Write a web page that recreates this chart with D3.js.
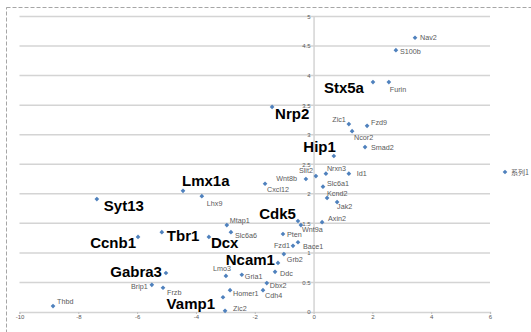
<!DOCTYPE html>
<html><head><meta charset="utf-8">
<script src="https://cdn.jsdelivr.net/npm/d3@7"></script>
<style>html,body{margin:0;padding:0;background:#fff;}svg{display:block;}</style>
</head><body>
<svg id="c" width="531" height="332"></svg>
<script>
const genes = ["Nav2","S100b","Stx5a","Furin","Nrp2","Zic1","Fzd9","Ncor2","Smad2","Hip1","Slit2","Nrxn3","Id1","Wnt8b","Cxcl12","Slc6a1","Kcnd2","Jak2","Lmx1a","Lhx9","Syt13","Mtap1","Slc6a6","Dcx","Tbr1","Ccnb1","Cdk5","Wnt9a","Axin2","Pten","Fzd1","Bace1","Grb2","Ncam1","Ddc","Gria1","Lmo3","Dbx2","Cdh4","Homer1","Vamp1","Zic2","Gabra3","Brip1","Frzb","Thbd"];
const xValues = [3.45,2.80,2.02,2.56,-1.41,1.20,1.82,1.31,1.75,0.69,0.08,0.42,1.20,-0.26,-1.65,0.32,0.46,0.80,-4.44,-3.80,-7.37,-2.95,-2.81,-3.56,-5.16,-5.97,-0.53,-0.43,0.29,-1.04,-0.70,-0.53,-1.01,-1.21,-1.31,-2.44,-2.98,-1.59,-1.72,-2.84,-3.08,-3.01,-5.02,-5.50,-5.12,-8.86];
const yValues = [4.64,4.43,3.89,3.89,3.47,3.18,3.15,3.06,2.79,2.64,2.30,2.34,2.34,2.25,2.17,2.12,1.93,1.86,2.05,1.96,1.91,1.47,1.35,1.27,1.35,1.27,1.54,1.47,1.52,1.32,1.12,1.18,0.98,0.83,0.68,0.63,0.61,0.49,0.37,0.37,0.25,0.02,0.66,0.46,0.41,0.10];
const highlighted = ["Stx5a","Nrp2","Hip1","Lmx1a","Syt13","Cdk5","Tbr1","Dcx","Ccnb1","Ncam1","Gabra3","Vamp1"];
const xTicks = [-10,-8,-6,-4,-2,0,2,4,6];
const yTicks = [0,0.5,1,1.5,2,2.5,3,3.5,4,4.5,5];
const seriesName = "系列1";

// label layout (pixel offsets from the marker, anchor)
const labelLayout = {
 Nav2:[5,0,"start"],S100b:[4,1,"start"],Stx5a:[-9,5,"end"],Furin:[1,7,"start"],Nrp2:[3,7,"start"],
 Zic1:[-3,-5,"end"],Fzd9:[4,-3,"start"],Ncor2:[2,6,"start"],Smad2:[6,0,"start"],Hip1:[2,-9,"end"],
 Slit2:[-3,-6,"end"],Nrxn3:[1,-5,"start"],Id1:[8,0,"start"],Wnt8b:[-9,-1,"end"],Cxcl12:[2,6,"start"],
 Slc6a1:[4,-3,"start"],Kcnd2:[0,-4,"start"],Jak2:[0,4,"start"],Lmx1a:[-1,-10,"start"],Lhx9:[5,7,"start"],
 Syt13:[7,6,"start"],Mtap1:[3,-5,"start"],Slc6a6:[4,3,"start"],Dcx:[2,6,"start"],Tbr1:[5,3,"start"],
 Ccnb1:[-2,6,"end"],Cdk5:[-2,-7,"end"],Wnt9a:[1,4,"start"],Axin2:[6,-4,"start"],Pten:[4,1,"start"],
 Fzd1:[-3,0,"end"],Bace1:[5,4,"start"],Grb2:[3,5,"start"],Ncam1:[-3,-3,"end"],Ddc:[5,2,"start"],
 Gria1:[3,2,"start"],Lmo3:[-4,-7,"middle"],Dbx2:[3,2,"start"],Cdh4:[2,5,"start"],Homer1:[3,3,"start"],
 Vamp1:[-8,6,"end"],Zic2:[8,-2,"start"],Gabra3:[-4,-1,"end"],Brip1:[-4,2,"end"],Frzb:[4,5,"start"],
 Thbd:[4,-5,"start"]
};

const svg = d3.select("#c");
const x = d3.scaleLinear().domain([-10,6]).range([19.5,490]);
const y = d3.scaleLinear().domain([0,5]).range([312,16.5]);
const gridColor = "#d4d4d4";

// outer dashed border
svg.append("rect").attr("x",6.5).attr("y",7.5).attr("width",540).attr("height",340)
  .attr("fill","none").attr("stroke","#a6a6a6").attr("stroke-width",1).attr("stroke-dasharray","4,2");

// horizontal gridlines
svg.append("g").selectAll("line").data(yTicks.filter(d=>d>0)).join("line")
  .attr("x1",x(-10)).attr("x2",x(6)).attr("y1",d=>y(d)).attr("y2",d=>y(d))
  .attr("stroke",gridColor).attr("stroke-width",1.5);

// x axis at y=0
const xAxis = d3.axisBottom(x).tickValues(xTicks).tickSize(2).tickFormat(d3.format("d"));
const gx = svg.append("g").attr("transform",`translate(0,${y(0)})`).call(xAxis);
gx.select(".domain").attr("stroke",gridColor).attr("stroke-width",1.5);
gx.selectAll(".tick line").attr("stroke","#bfbfbf");
gx.selectAll(".tick text").attr("font-family","Liberation Sans, Arial, sans-serif").attr("font-size",6)
  .attr("fill","#595959").attr("dy","0.3em").text(d=>d<0?"-"+Math.abs(d):d);

// y axis at x=0
const yAxis = d3.axisLeft(y).tickValues(yTicks).tickSize(0).tickPadding(3).tickFormat(d=>String(d));
const gy = svg.append("g").attr("transform",`translate(${x(0)},0)`).call(yAxis);
gy.select(".domain").attr("stroke",gridColor).attr("stroke-width",1.5);
gy.selectAll(".tick text").attr("font-family","Liberation Sans, Arial, sans-serif").attr("font-size",6).attr("fill","#595959");

const pts = genes.map((g,i)=>({g, x:xValues[i], y:yValues[i]}));
const diamond = d3.symbol().type(d3.symbolDiamond2).size(14);

svg.append("g").selectAll("path").data(pts).join("path")
  .attr("d",diamond).attr("transform",d=>`translate(${x(d.x)},${y(d.y)})`)
  .attr("fill","#4f81bd");

svg.append("g").selectAll("text").data(pts).join("text")
  .attr("x",d=>x(d.x)+labelLayout[d.g][0])
  .attr("y",d=>y(d.y)+labelLayout[d.g][1])
  .attr("text-anchor",d=>labelLayout[d.g][2])
  .attr("dominant-baseline","central")
  .attr("font-family","Liberation Sans, Arial, sans-serif")
  .attr("font-size",d=>highlighted.includes(d.g)?15:7.2)
  .attr("font-weight",d=>highlighted.includes(d.g)?"bold":"normal")
  .attr("fill",d=>highlighted.includes(d.g)?"#000":"#595959")
  .text(d=>d.g);

// legend
const lg = svg.append("g").attr("transform","translate(505,172)");
lg.append("path").attr("d",diamond).attr("fill","#4f81bd");
lg.append("text").attr("x",6).attr("dominant-baseline","central")
  .attr("font-family","Noto Sans CJK SC, sans-serif").attr("font-size",7).attr("fill","#595959").text(seriesName);
</script>
</body></html>
